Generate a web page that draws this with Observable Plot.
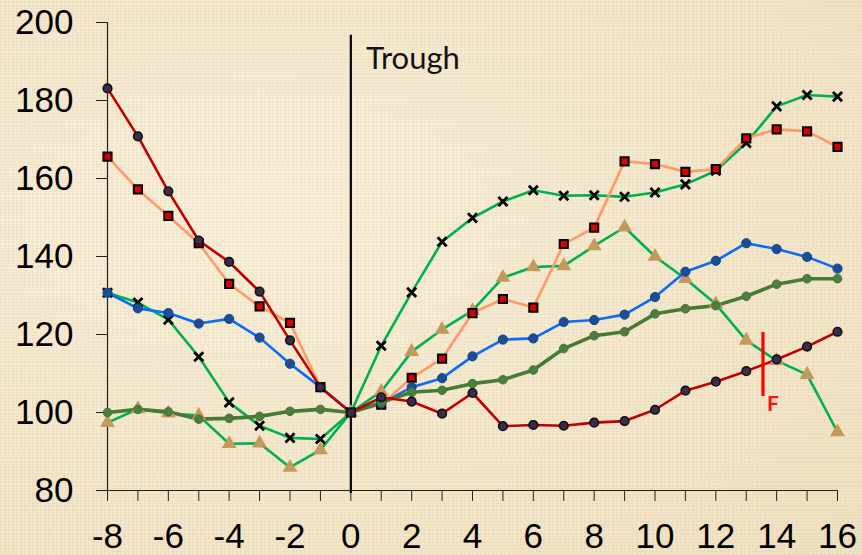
<!DOCTYPE html>
<html><head><meta charset="utf-8">
<script src="https://cdn.jsdelivr.net/npm/d3@7"></script>
<script src="https://cdn.jsdelivr.net/npm/@observablehq/plot@0.6"></script>
<style>
html,body{margin:0;padding:0;width:862px;height:555px;overflow:hidden;}
body{
  background-color:#f2e5c8;
  background-image:
    repeating-linear-gradient(0deg, rgba(180,150,100,0.07) 0 1px, transparent 1px 3px),
    repeating-linear-gradient(90deg, rgba(180,150,100,0.06) 0 1px, transparent 1px 4px),
    radial-gradient(ellipse at 30% 40%, rgba(255,250,235,0.5), rgba(230,210,170,0.25));
}
#chart svg{display:block;background:transparent;}
#chart g[aria-label="y-axis tick label"], #chart g[aria-label="x-axis tick label"]{
  font-family:"Liberation Sans", Arial, sans-serif !important;
  font-size:35px !important;
}
</style></head>
<body><div id="chart"></div>
<script>
// Quarters relative to trough
const quarters = [-8,-7,-6,-5,-4,-3,-2,-1,0,1,2,3,4,5,6,7,8,9,10,11,12,13,14,15,16];
const xTicks = d3.range(-8, 17);
const yTicks = [80,100,120,140,160,180,200];

// Series values (index = 100 at trough)
const redCircles = [183.1,170.8,156.7,144.1,138.6,131.0,118.5,106.5,100,103.9,102.8,99.7,105.0,96.5,96.8,96.6,97.4,97.8,100.7,105.6,107.9,110.6,113.6,116.9,120.7];
const orangeSquares = [165.6,157.2,150.4,143.4,133.0,127.2,123.0,106.5,100,102.0,108.9,113.8,125.5,129.1,126.9,143.2,147.4,164.4,163.7,161.7,162.4,170.3,172.6,172.1,168.1];
const greenCrosses = [130.7,128.2,123.8,114.3,102.6,96.6,93.5,93.2,100,117.1,130.8,143.8,149.9,154.1,157.0,155.6,155.7,155.3,156.4,158.5,162.0,169.1,178.5,181.4,181.0];
const greenTriangles = [97.4,100.9,99.8,99.2,92.0,92.1,85.9,90.4,100,105.4,115.6,121.3,126.1,134.6,137.3,137.6,142.7,147.5,140.0,134.3,127.8,118.5,113.3,109.7,95.0];
const blueCircles = [130.7,126.7,125.5,122.8,124.0,119.2,112.5,106.5,100,102.3,106.5,108.8,114.4,118.7,119.0,123.2,123.7,125.1,129.6,136.1,138.9,143.4,141.9,139.9,136.9];
const darkGreenCircles = [100.0,100.8,100.2,98.3,98.5,99.0,100.3,100.8,100,102.6,105.2,105.7,107.4,108.4,110.9,116.4,119.7,120.7,125.3,126.6,127.4,129.8,132.9,134.3,134.3];

// Annotations
const troughLabel = "Trough";
const fLabel = "F";
const fQuarter = 13.55;

const toRows = arr => quarters.map((q, i) => ({x: q, y: arr[i]}));

const series = [
  {rows: toRows(greenTriangles), line: "#00b050", lw: 2.6, dot: {symbol: "triangle", r: 5.5, fill: "#c39a5c", stroke: "none"}},
  {rows: toRows(greenCrosses), line: "#00b050", lw: 2.6, dot: {symbol: "times", r: 4.2, fill: "none", stroke: "#000", strokeWidth: 2.8}},
  {rows: toRows(orangeSquares), line: "#ff9a66", lw: 2.6, dot: {symbol: "square", r: 4.6, fill: "#d90000", stroke: "#000", strokeWidth: 2}},
  {rows: toRows(blueCircles), line: "#0a6cf5", lw: 2.6, dot: {symbol: "circle", r: 4.6, fill: "#1a4d9a", stroke: "#174583", strokeWidth: 1}},
  {rows: toRows(darkGreenCircles), line: "#467a36", lw: 3.6, dot: {symbol: "circle", r: 4.3, fill: "#4d7e3c", stroke: "#44733a", strokeWidth: 1}},
  {rows: toRows(redCircles), line: "#c00000", lw: 2.6, dot: {symbol: "circle", r: 4.3, fill: "#3b2c4f", stroke: "#111", strokeWidth: 1.6}}
];

const marks = [
  Plot.ruleY([80], {x1: -8, x2: 16, stroke: "#222", strokeWidth: 1.2}),
  Plot.ruleX([-8], {y1: 80, y2: 200, stroke: "#222", strokeWidth: 1.2}),
  Plot.axisY({ticks: yTicks, tickSize: 11, tickPadding: 23, fill: "#000", stroke: "#222", label: null}),
  Plot.axisX({ticks: xTicks, tickSize: 11, tickPadding: 22, fill: "#000", stroke: "#222", label: null,
              tickFormat: d => (d % 2 === 0 ? String(d) : "")}),
  Plot.ruleX([0], {y1: 79.2, y2: 196.7, stroke: "#000", strokeWidth: 2.2}),
  Plot.text([troughLabel], {x: 0.5, y: 188.2, text: d => d, textAnchor: "start", lineAnchor: "bottom",
             fontSize: 31, fill: "#111", fontFamily: "Lato, 'Open Sans', sans-serif"})
];
for (const s of series) {
  marks.push(Plot.line(s.rows, {x: "x", y: "y", stroke: s.line, strokeWidth: s.lw}));
}
for (const s of series) {
  marks.push(Plot.dot(s.rows, {x: "x", y: "y", ...s.dot}));
}
marks.push(Plot.ruleX([fQuarter], {y1: 104.1, y2: 120.5, stroke: "#ff0000", strokeWidth: 3.2}));
marks.push(Plot.text([fLabel], {x: 13.68, y: 100.3, text: d => d, textAnchor: "start", lineAnchor: "bottom",
           fontSize: 21, fontWeight: "bold", fill: "#ff1010", fontFamily: "Lato, 'Open Sans', sans-serif"}));

const chart = Plot.plot({
  width: 862,
  height: 555,
  marginLeft: 107,
  marginRight: 25,
  marginTop: 22,
  marginBottom: 65,
  x: {domain: [-8, 16]},
  y: {domain: [80, 200]},
  style: {fontFamily: "'Liberation Sans', Arial, sans-serif", fontSize: "35px", background: "transparent", color: "#000", overflow: "visible"},
  marks
});
document.getElementById("chart").appendChild(chart);
</script>
</body></html>
